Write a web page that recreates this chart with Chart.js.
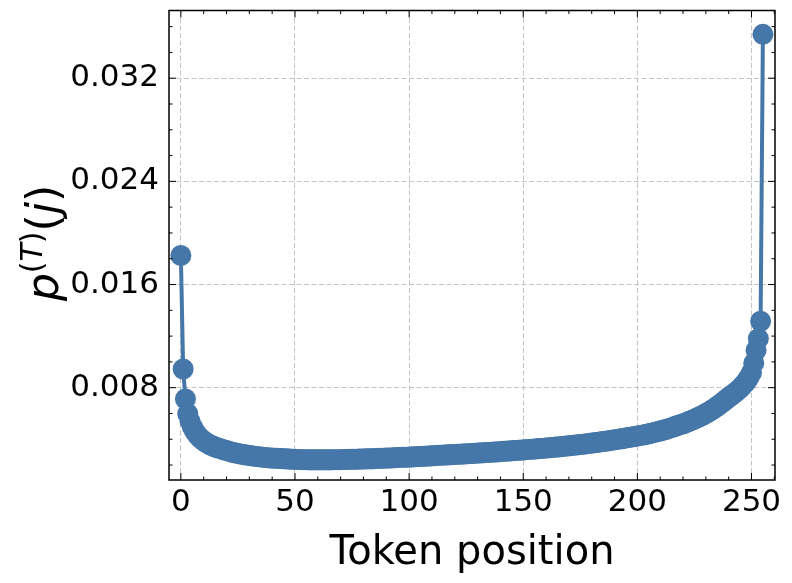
<!DOCTYPE html>
<html>
<head>
<meta charset="utf-8">
<script src="https://cdn.jsdelivr.net/npm/chart.js@4.4.1/dist/chart.umd.min.js"></script>
<style>
  body { margin: 0; background: #fff; }
</style>
</head>
<body>
<canvas id="chart" width="792" height="583"></canvas>
<script>
// probability per token position
var probs = [
  0.01825, 0.00945, 0.00712, 0.00598, 0.00540, 0.00497, 0.00464, 0.00438, 0.00418, 0.00401,
  0.00387, 0.00375, 0.00364, 0.00355, 0.00347, 0.00340, 0.00334, 0.00329, 0.00323, 0.00317,
  0.00312, 0.00307, 0.00302, 0.00297, 0.00293, 0.00289, 0.00286, 0.00283, 0.00280, 0.00277,
  0.00274, 0.00272, 0.00269, 0.00267, 0.00265, 0.00263, 0.00261, 0.00259, 0.00257, 0.00255,
  0.00254, 0.00253, 0.00252, 0.00251, 0.00250, 0.00249, 0.00248, 0.00247, 0.00246, 0.00245,
  0.00244, 0.00243, 0.00243, 0.00242, 0.00242, 0.00242, 0.00241, 0.00241, 0.00241, 0.00241,
  0.00241, 0.00241, 0.00241, 0.00241, 0.00241, 0.00241, 0.00241, 0.00242, 0.00242, 0.00242,
  0.00242, 0.00243, 0.00243, 0.00243, 0.00244, 0.00244, 0.00245, 0.00245, 0.00246, 0.00246,
  0.00247, 0.00248, 0.00248, 0.00249, 0.00249, 0.00250, 0.00251, 0.00252, 0.00252, 0.00253,
  0.00254, 0.00255, 0.00255, 0.00256, 0.00257, 0.00258, 0.00259, 0.00260, 0.00261, 0.00261,
  0.00262, 0.00263, 0.00264, 0.00265, 0.00266, 0.00267, 0.00268, 0.00269, 0.00270, 0.00271,
  0.00272, 0.00273, 0.00274, 0.00275, 0.00276, 0.00277, 0.00278, 0.00279, 0.00280, 0.00281,
  0.00282, 0.00283, 0.00284, 0.00285, 0.00286, 0.00287, 0.00288, 0.00289, 0.00290, 0.00292,
  0.00293, 0.00294, 0.00295, 0.00296, 0.00297, 0.00298, 0.00300, 0.00301, 0.00302, 0.00303,
  0.00304, 0.00306, 0.00307, 0.00308, 0.00309, 0.00311, 0.00312, 0.00313, 0.00315, 0.00316,
  0.00317, 0.00319, 0.00320, 0.00322, 0.00323, 0.00325, 0.00326, 0.00328, 0.00329, 0.00331,
  0.00332, 0.00334, 0.00335, 0.00337, 0.00339, 0.00340, 0.00342, 0.00344, 0.00346, 0.00347,
  0.00349, 0.00351, 0.00353, 0.00355, 0.00357, 0.00359, 0.00361, 0.00363, 0.00366, 0.00368,
  0.00370, 0.00372, 0.00375, 0.00377, 0.00380, 0.00382, 0.00385, 0.00387, 0.00390, 0.00393,
  0.00396, 0.00398, 0.00401, 0.00404, 0.00407, 0.00410, 0.00413, 0.00416, 0.00419, 0.00422,
  0.00425, 0.00428, 0.00432, 0.00435, 0.00439, 0.00443, 0.00447, 0.00451, 0.00455, 0.00460,
  0.00464, 0.00469, 0.00474, 0.00479, 0.00484, 0.00490, 0.00496, 0.00502, 0.00508, 0.00514,
  0.00520, 0.00527, 0.00534, 0.00541, 0.00548, 0.00556, 0.00564, 0.00572, 0.00581, 0.00590,
  0.00600, 0.00610, 0.00620, 0.00631, 0.00643, 0.00655, 0.00668, 0.00682, 0.00696, 0.00710,
  0.00724, 0.00737, 0.00750, 0.00764, 0.00779, 0.00795, 0.00813, 0.00833, 0.00856, 0.00884,
  0.00918, 0.00990, 0.01090, 0.01180, 0.01315, 0.03540
];

var xMajor = [0, 50, 100, 150, 200, 250];
var xMinor = [10, 20, 30, 40, 60, 70, 80, 90, 110, 120, 130, 140, 160, 170, 180, 190,
              210, 220, 230, 240, 260];
var yMajor = [0.008, 0.016, 0.024, 0.032];
var yMinor = [0.002, 0.004, 0.006, 0.010, 0.012, 0.014, 0.018, 0.020, 0.022,
              0.026, 0.028, 0.030, 0.034, 0.036];

var points = [];
for (var i = 0; i < probs.length; i++) {
  points.push({x: i, y: probs[i]});
}

var blue = '#4677a9';
var fontFam = "'DejaVu Sans', sans-serif";

// inward ticks on all sides + frame + axis titles
var framePlugin = {
  id: 'frame',
  afterDraw: function(chart) {
    var ctx = chart.ctx, a = chart.chartArea;
    var xs = chart.scales.x, ys = chart.scales.y;
    ctx.save();
    ctx.strokeStyle = '#000';
    ctx.lineWidth = 1;
    function xt(v, len) {
      var px = xs.getPixelForValue(v);
      if (px < a.left || px > a.right) return;
      ctx.beginPath();
      ctx.moveTo(px, a.bottom); ctx.lineTo(px, a.bottom - len);
      ctx.moveTo(px, a.top); ctx.lineTo(px, a.top + len);
      ctx.stroke();
    }
    function yt(v, len) {
      var py = ys.getPixelForValue(v);
      if (py < a.top || py > a.bottom) return;
      ctx.beginPath();
      ctx.moveTo(a.left, py); ctx.lineTo(a.left + len, py);
      ctx.moveTo(a.right, py); ctx.lineTo(a.right - len, py);
      ctx.stroke();
    }
    xMajor.forEach(function(v) { xt(v, 7); });
    xMinor.forEach(function(v) { xt(v, 3.5); });
    yMajor.forEach(function(v) { yt(v, 7); });
    yMinor.forEach(function(v) { yt(v, 3.5); });
    ctx.lineWidth = 1.5;
    ctx.strokeRect(a.left, a.top, a.right - a.left, a.bottom - a.top);

    // x title
    ctx.fillStyle = '#000';
    ctx.font = '40px ' + fontFam;
    ctx.textAlign = 'center';
    ctx.textBaseline = 'alphabetic';
    ctx.fillText('Token position', (a.left + a.right) / 2, 564);

    // y title: p^(T)(j)
    var F = 44, S = 30;
    var parts = [
      {t: 'p', f: 'italic ' + F + 'px ' + fontFam, dy: 0},
      {t: '(', f: S + 'px ' + fontFam, dy: -0.36 * F},
      {t: 'T', f: 'italic ' + S + 'px ' + fontFam, dy: -0.36 * F},
      {t: ')', f: S + 'px ' + fontFam, dy: -0.36 * F},
      {t: '(', f: F + 'px ' + fontFam, dy: 0},
      {t: 'j', f: 'italic ' + F + 'px ' + fontFam, dy: 0},
      {t: ')', f: F + 'px ' + fontFam, dy: 0}
    ];
    var total = 0;
    parts.forEach(function(p) { ctx.font = p.f; p.w = ctx.measureText(p.t).width; total += p.w; });
    ctx.translate(58, 243);
    ctx.rotate(-Math.PI / 2);
    ctx.textAlign = 'left';
    var cx = -total / 2;
    parts.forEach(function(p) {
      ctx.font = p.f;
      ctx.fillText(p.t, cx, p.dy);
      cx += p.w;
    });
    ctx.restore();
  }
};

new Chart(document.getElementById('chart'), {
  type: 'line',
  data: {
    datasets: [{
      data: points,
      borderColor: blue,
      backgroundColor: blue,
      borderWidth: 4,
      pointRadius: 10.5,
      pointBorderWidth: 0,
      pointBackgroundColor: blue,
      tension: 0,
      fill: false
    }]
  },
  options: {
    responsive: false,
    animation: false,
    layout: { padding: { top: 9.5, right: 17, left: 0, bottom: 0 } },
    plugins: { legend: { display: false }, tooltip: { enabled: false } },
    scales: {
      x: {
        type: 'linear',
        min: -5.2,
        max: 260.3,
        afterBuildTicks: function(s) { s.ticks = xMajor.map(function(v) { return {value: v}; }); },
        afterFit: function(s) { s.height = 103; s.paddingLeft = 0; s.paddingRight = 0; },
        ticks: {
          font: { family: fontFam, size: 31 },
          color: '#000',
          padding: 4,
          maxRotation: 0,
          callback: function(v) { return String(v); }
        },
        grid: { color: '#c4c4c4', lineWidth: 1, drawTicks: false },
        border: { display: false, dash: [5, 2.5] }
      },
      y: {
        type: 'linear',
        min: 0.00084,
        max: 0.03725,
        afterBuildTicks: function(s) { s.ticks = yMajor.map(function(v) { return {value: v}; }); },
        afterFit: function(s) { s.width = 169; s.paddingTop = 0; s.paddingBottom = 0; },
        ticks: {
          font: { family: fontFam, size: 31 },
          color: '#000',
          padding: 10,
          callback: function(v) { return v.toFixed(3); }
        },
        grid: { color: '#c4c4c4', lineWidth: 1, drawTicks: false },
        border: { display: false, dash: [5, 2.5] }
      }
    }
  },
  plugins: [framePlugin]
});
</script>
</body>
</html>
